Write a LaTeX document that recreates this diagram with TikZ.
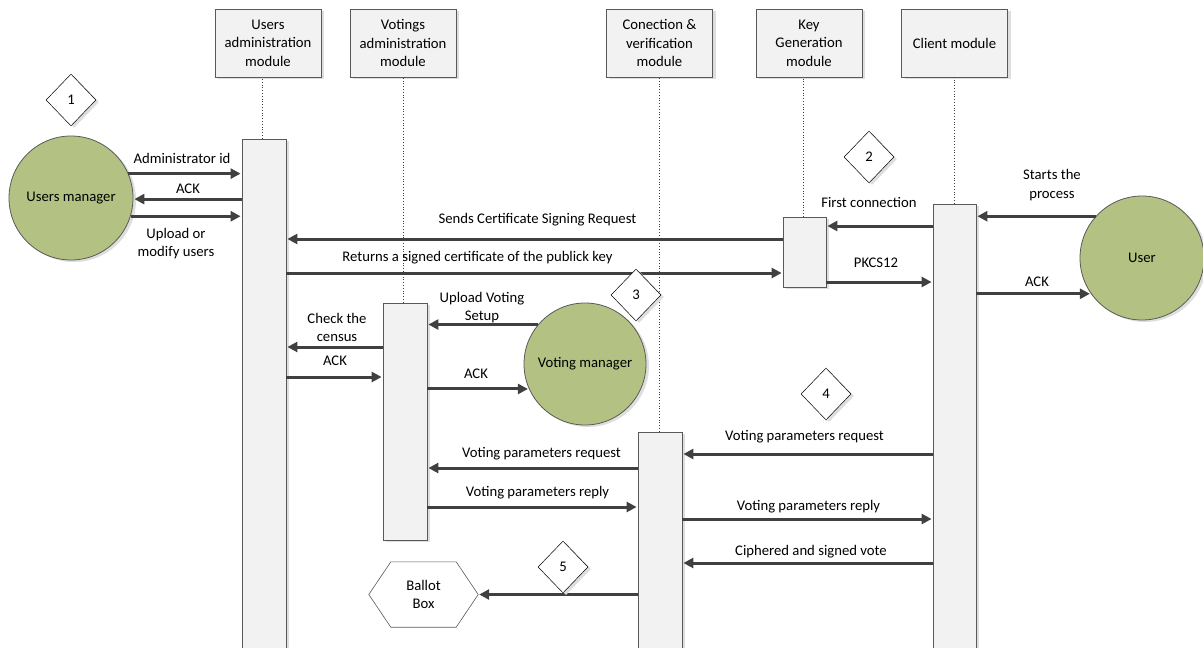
\documentclass[tikz,border=0pt]{standalone}
\usepackage{fontspec}
\setmainfont{Carlito}
\usetikzlibrary{shapes.geometric,arrows.meta,calc,shadows}
\definecolor{boxfill}{RGB}{242,242,242}
\definecolor{boxline}{RGB}{89,89,89}
\definecolor{arrowc}{RGB}{64,64,64}
\definecolor{green1}{RGB}{179,194,131}
\definecolor{shadowc}{RGB}{222,222,222}
\tikzset{
  every node/.style={font=\fontsize{14.7}{18.5}\selectfont, text=black},
  shd/.style={drop shadow={shadow xshift=3pt, shadow yshift=-2pt, fill=shadowc, opacity=1}},
  hdr/.style={draw=boxline, fill=boxfill, line width=0.8pt, minimum width=106pt, minimum height=68pt, inner sep=0pt, align=center, shd},
  actbar/.style={draw=boxline, fill=boxfill, line width=0.8pt, minimum width=44pt, inner sep=0pt, shd},
  life/.style={draw=arrowc, dotted, line width=0.8pt},
  actor/.style={circle, draw=boxline, fill=green1, line width=0.8pt, inner sep=0pt, shd},
  stepmark/.style={diamond, draw=black, fill=white, line width=0.5pt, minimum width=50pt, minimum height=52pt, inner sep=0pt, shd},
  msg/.style={draw=arrowc, line width=3pt, -{Triangle[length=10pt,width=10pt]}, shorten >=1pt},
  lbl/.style={inner sep=0pt, align=center},
}
\begin{document}
\begin{tikzpicture}[x=1pt,y=-1pt]
\useasboundingbox (0,0) rectangle (1203,648);
% headers
\node[hdr] (hUA) at (268,43) {Users\\administration\\module};
\node[hdr] (hVA) at (403,43) {Votings\\administration\\module};
\node[hdr] (hCV) at (659.5,43) {Conection \&\\verification\\module};
\node[hdr] (hKG) at (809,43) {Key\\Generation\\module};
\node[hdr] (hCM) at (954.5,43) {Client module};
% activation bars
\node[actbar, minimum height=526pt] (aUA) at (264,402) {};
\node[actbar, minimum height=237pt] (aVA) at (405,421.5) {};
\node[actbar, minimum height=233pt] (aCV) at (660,548.5) {};
\node[actbar, minimum width=43pt, minimum height=70pt] (aKG) at (804.5,252) {};
\node[actbar, minimum width=43pt, minimum height=461pt] (aCM) at (954.5,434.5) {};
% lifelines
\draw[life] (aUA.north -| 262.5,0) -- (262.5,0 |- hUA.south);
\draw[life] (aVA.north -| 403.5,0) -- (403.5,0 |- hVA.south);
\draw[life] (aCV.north -| 659.5,0) -- (659.5,0 |- hCV.south);
\draw[life] (aKG.north -| 803.5,0) -- (803.5,0 |- hKG.south);
\draw[life] (aCM.north -| 954.5,0) -- (954.5,0 |- hCM.south);
% actors
\node[actor, minimum size=124pt] (um) at (71,198) {Users manager};
\node[actor, minimum size=122pt] (vm) at (585,364) {Voting manager};
\node[actor, minimum size=124pt] (us) at (1142,258) {User};
% ballot box
\node[lbl, minimum width=109pt, minimum height=65pt] (bb) at (423.5,594.5) {Ballot\\Box};
\draw[boxline, line width=0.6pt] (bb.west) -- ($(bb.north west)+(22,0)$) -- ($(bb.north east)+(-22,0)$) -- (bb.east) -- ($(bb.south east)+(-22,0)$) -- ($(bb.south west)+(22,0)$) -- cycle;
% messages
\draw[msg] (um.23.8) -- (aUA.west |- um.23.8);
\draw[msg] (aUA.west |- um.-1) -- (um.-1);
\draw[msg] (um.-17.8) -- (aUA.west |- um.-17.8);
\coordinate (yCSR) at (0,239);
\coordinate (yRet) at (0,273);
\draw[msg] (aKG.west |- yCSR) -- (aUA.east |- yCSR);
\draw[msg] (aUA.east |- yRet) -- (aKG.west |- yRet);
\coordinate (yFC) at (0,226);
\coordinate (yPK) at (0,282);
\draw[msg] (aCM.west |- yFC) -- (aKG.east |- yFC);
\draw[msg] (aKG.east |- yPK) -- (aCM.west |- yPK);
\draw[msg] (us.138.6) -- (aCM.east |- us.138.6);
\draw[msg] (aCM.east |- us.215.5) -- (us.215.5);
\draw[msg] (vm.140.2) -- (aVA.east |- vm.140.2);
\draw[msg] (aVA.east |- vm.204.2) -- (vm.204.2);
\coordinate (yCC) at (0,347);
\coordinate (yAK) at (0,377);
\draw[msg] (aVA.west |- yCC) -- (aUA.east |- yCC);
\draw[msg] (aUA.east |- yAK) -- (aVA.west |- yAK);
\coordinate (yVR1) at (0,468);
\coordinate (yVP1) at (0,507);
\draw[msg] (aCV.west |- yVR1) -- (aVA.east |- yVR1);
\draw[msg] (aVA.east |- yVP1) -- (aCV.west |- yVP1);
\coordinate (yVR2) at (0,454);
\coordinate (yVP2) at (0,519);
\coordinate (yCS) at (0,563);
\draw[msg] (aCM.west |- yVR2) -- (aCV.east |- yVR2);
\draw[msg] (aCV.east |- yVP2) -- (aCM.west |- yVP2);
\draw[msg] (aCM.west |- yCS) -- (aCV.east |- yCS);
\draw[msg] (aCV.west |- bb.east) -- (bb.east);
% step diamonds
\node[stepmark] (d1) at (71,100) {1};
\node[stepmark] (d2) at (869,157) {2};
\node[stepmark] (d3) at (636,295) {3};
\node[stepmark] (d4) at (826,394) {4};
\node[stepmark] (d5) at (563,567) {5};
% labels
\node[lbl] (l1) at (182,158) {Administrator id};
\node[lbl] (l2) at (188,189) {ACK};
\node[lbl] (l3) at (176,243.5) {Upload or\\modify users};
\node[lbl] (l4) at (537.5,220) {Sends Certificate Signing Request};
\node[lbl] (l5) at (477.5,258) {Returns a signed certificate of the publick key};
\node[lbl] (l6) at (869,202) {First connection};
\node[lbl] (l7) at (876,263) {PKCS12};
\node[lbl] (l8) at (1052,185) {Starts the\\process};
\node[lbl] (l9) at (1037,282) {ACK};
\node[lbl] (l10) at (482,307.5) {Upload Voting\\Setup};
\node[lbl] (l11) at (476,374) {ACK};
\node[lbl] (l12) at (337,327.5) {Check the\\census};
\node[lbl] (l13) at (335,361) {ACK};
\node[lbl] (l14) at (541.5,454) {Voting parameters request};
\node[lbl] (l15) at (537.5,493) {Voting parameters reply};
\node[lbl] (l16) at (804.5,437) {Voting parameters request};
\node[lbl] (l17) at (808.5,507) {Voting parameters reply};
\node[lbl] (l18) at (811,552) {Ciphered and signed vote};
\end{tikzpicture}
\end{document}
